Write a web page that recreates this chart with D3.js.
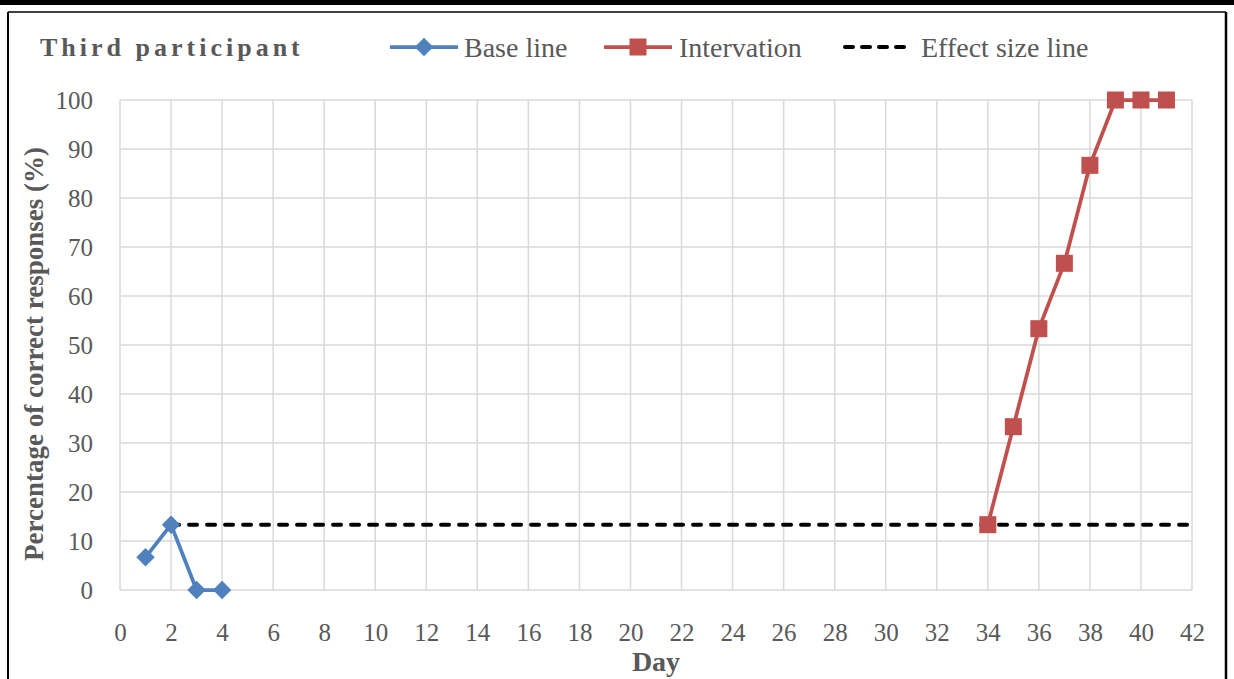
<!DOCTYPE html>
<html>
<head>
<meta charset="utf-8">
<script src="https://cdn.jsdelivr.net/npm/d3@7"></script>
<style>
  html, body { margin: 0; padding: 0; background: #fff; }
  svg { display: block; }
  text { font-family: "Liberation Serif", "DejaVu Serif", serif; }
</style>
</head>
<body>
<svg id="chart" width="1234" height="679"></svg>
<script>
// Daily percentage of correct responses for the third participant
const baselineDays = [1, 2, 3, 4];
const baselineValues = [6.67, 13.33, 0, 0];
const interventionDays = [34, 35, 36, 37, 38, 39, 40, 41];
const interventionValues = [13.33, 33.33, 53.33, 66.67, 86.67, 100, 100, 100];
const effectSizeDays = [2, 42];
const effectSizeValues = [13.33, 13.33];
const xTicks = d3.range(0, 43, 2);
const yTicks = d3.range(0, 101, 10);
const seriesNames = ["Base line", "Intervation", "Effect size line"];

const W = 1234, H = 679;
const margin = { left: 120, right: 42, top: 100, bottom: 89 };
const svg = d3.select("#chart");

const blue = "#4F81BD", red = "#C0504D", textGray = "#595959", gridGray = "#d9d9d9";
const FONT = '"Liberation Serif", serif';

// frame
svg.append("rect").attr("x", 0).attr("y", 0).attr("width", W).attr("height", 5).attr("fill", "#000");
svg.append("line").attr("x1", 8).attr("x2", 8).attr("y1", 12).attr("y2", H).attr("stroke", "#000").attr("stroke-width", 2);
svg.append("line").attr("x1", 8).attr("x2", 1226).attr("y1", 12).attr("y2", 12).attr("stroke", "#000").attr("stroke-width", 1.5);
svg.append("line").attr("x1", 1226).attr("x2", 1226).attr("y1", 12).attr("y2", H).attr("stroke", "#000").attr("stroke-width", 2.5);

const x = d3.scaleLinear().domain([0, 42]).range([margin.left, W - margin.right]);
const y = d3.scaleLinear().domain([0, 100]).range([H - margin.bottom, margin.top]);

// grid
const grid = svg.append("g");
grid.selectAll(".gx").data(xTicks).join("line")
  .attr("x1", d => x(d)).attr("x2", d => x(d))
  .attr("y1", y(0)).attr("y2", y(100))
  .attr("stroke", gridGray).attr("stroke-width", 1.5);
grid.selectAll(".gy").data(yTicks).join("line")
  .attr("x1", x(0)).attr("x2", x(42))
  .attr("y1", d => y(d)).attr("y2", d => y(d))
  .attr("stroke", gridGray).attr("stroke-width", 1.5);

// axes
const xAxis = svg.append("g").attr("transform", `translate(0,${y(0)})`)
  .call(d3.axisBottom(x).tickValues(xTicks).tickSize(0).tickPadding(42));
const yAxis = svg.append("g").attr("transform", `translate(${x(0)},0)`)
  .call(d3.axisLeft(y).tickValues(yTicks).tickSize(0).tickPadding(27));
[xAxis, yAxis].forEach(a => {
  a.select(".domain").remove();
  a.selectAll("text").attr("fill", textGray).style("font-size", "25px")
    .style("font-family", FONT).attr("dy", "0.35em");
});

// axis titles
svg.append("text").attr("x", (x(0) + x(42)) / 2).attr("y", 671)
  .attr("text-anchor", "middle").attr("fill", textGray)
  .style("font-size", "28px").style("font-weight", "bold").text("Day");
svg.append("text")
  .attr("transform", `translate(43,354) rotate(-90)`)
  .attr("text-anchor", "middle").attr("fill", textGray)
  .style("font-size", "27px").style("font-weight", "bold")
  .text("Percentage of correct responses (%)");

const line = d3.line().x(d => x(d[0])).y(d => y(d[1]));
const diamondPath = d3.symbol().type(d3.symbolSquare).size(170);

// effect size line (rounded dashes)
svg.append("path")
  .datum(effectSizeDays.map((d, i) => [d, effectSizeValues[i]]))
  .attr("d", line).attr("fill", "none").attr("stroke", "#000")
  .attr("stroke-width", 4).attr("stroke-linecap", "round").attr("stroke-dasharray", "8,10");

// baseline
const basePts = baselineDays.map((d, i) => [d, baselineValues[i]]);
svg.append("path").datum(basePts).attr("d", line)
  .attr("fill", "none").attr("stroke", blue).attr("stroke-width", 3.75).attr("stroke-linejoin", "round");
svg.selectAll(".bm").data(basePts).join("path")
  .attr("d", diamondPath)
  .attr("transform", d => `translate(${x(d[0])},${y(d[1])}) rotate(45)`)
  .attr("fill", blue);

// intervention
const intPts = interventionDays.map((d, i) => [d, interventionValues[i]]);
svg.append("path").datum(intPts).attr("d", line)
  .attr("fill", "none").attr("stroke", red).attr("stroke-width", 3.75).attr("stroke-linejoin", "round");
svg.selectAll(".im").data(intPts).join("rect")
  .attr("x", d => x(d[0]) - 8.5).attr("y", d => y(d[1]) - 8.5)
  .attr("width", 17).attr("height", 17).attr("fill", red);

// title
svg.append("text").attr("x", 40).attr("y", 56).attr("fill", textGray)
  .style("font-size", "26px").style("font-weight", "bold").style("letter-spacing", "4px")
  .text("Third participant");

// legend
const legend = svg.append("g").attr("transform", "translate(0,47)");
const legendItems = [
  { x0: 390, color: blue, marker: "diamond", dash: null, tx: 464 },
  { x0: 604, color: red, marker: "square", dash: null, tx: 679 },
  { x0: 845, color: "#000", marker: null, dash: "8,9", tx: 921 }
];
legendItems.forEach((it, i) => {
  legend.append("line").attr("x1", it.x0).attr("x2", it.x0 + (it.dash ? 64 : 68)).attr("y1", 0).attr("y2", 0)
    .attr("stroke", it.color).attr("stroke-width", it.dash ? 4 : 3.75)
    .attr("stroke-linecap", it.dash ? "round" : "butt")
    .attr("stroke-dasharray", it.dash);
  if (it.marker === "diamond") {
    legend.append("path").attr("d", diamondPath)
      .attr("transform", `translate(${it.x0 + 34},0) rotate(45)`).attr("fill", it.color);
  } else if (it.marker === "square") {
    legend.append("rect").attr("x", it.x0 + 34 - 8.5).attr("y", -8.5).attr("width", 17).attr("height", 17).attr("fill", it.color);
  }
  legend.append("text").attr("x", it.tx).attr("y", 0).attr("dy", "0.35em")
    .attr("fill", textGray).style("font-size", "28px").text(seriesNames[i]);
});
</script>
</body>
</html>
